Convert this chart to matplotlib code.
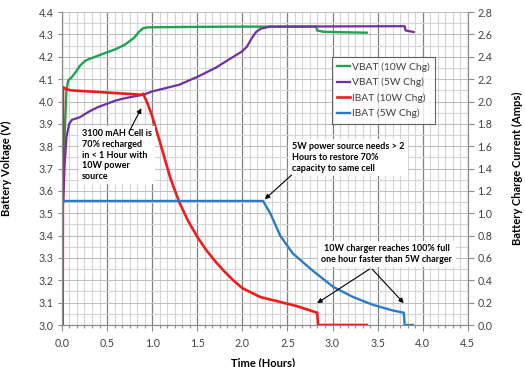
import matplotlib
matplotlib.use("Agg")
import matplotlib.pyplot as plt
from matplotlib.ticker import MultipleLocator

plt.rcParams["font.family"] = ["Lato", "DejaVu Sans"]

# VBAT, 10 W charger (volts)
vbat10_t = [0.015, 0.03, 0.05, 0.07, 0.1, 0.15, 0.2, 0.25, 0.3, 0.4, 0.5, 0.6,
            0.7, 0.8, 0.85, 0.9, 0.95, 1.5, 2.0, 2.5, 2.82, 2.83, 2.9, 3.1, 3.38]
vbat10_v = [3.62, 3.85, 4.05, 4.095, 4.105, 4.13, 4.16, 4.18, 4.19, 4.205, 4.22,
            4.235, 4.255, 4.285, 4.31, 4.328, 4.332, 4.334, 4.335, 4.335, 4.335,
            4.318, 4.312, 4.31, 4.308]

# VBAT, 5 W charger (volts)
vbat5_t = [0.015, 0.03, 0.05, 0.08, 0.11, 0.2, 0.3, 0.4, 0.5, 0.6, 0.7, 0.8,
           0.9, 1.0, 1.3, 1.5, 1.7, 1.9, 2.0, 2.05, 2.1, 2.15, 2.2, 2.3, 3.0,
           3.8, 3.81, 3.9]
vbat5_v = [3.55, 3.72, 3.84, 3.9, 3.918, 3.93, 3.955, 3.975, 3.99, 4.005, 4.015,
           4.023, 4.03, 4.045, 4.075, 4.11, 4.15, 4.2, 4.225, 4.245, 4.28, 4.31,
           4.325, 4.335, 4.336, 4.337, 4.318, 4.311]

# IBAT, 10 W charger (amps)
ibat10_t = [0.0, 0.008, 0.012, 0.05, 0.1, 0.2, 0.3, 0.4, 0.5, 0.6, 0.7, 0.8,
            0.88, 0.9, 0.95, 1.0, 1.1, 1.2, 1.3, 1.4, 1.5, 1.6, 1.7, 1.8, 1.9,
            2.0, 2.2, 2.4, 2.6, 2.83, 2.84, 3.38]
ibat10_a = [0.0, 0.0, 2.13, 2.11, 2.10, 2.095, 2.09, 2.085, 2.08, 2.075, 2.07,
            2.065, 2.06, 2.07, 1.98, 1.87, 1.60, 1.32, 1.10, 0.93, 0.79, 0.67,
            0.57, 0.48, 0.40, 0.33, 0.25, 0.21, 0.17, 0.11, 0.0, 0.0]

# IBAT, 5 W charger (amps)
ibat5_t = [0.0, 0.005, 0.01, 0.5, 1.0, 1.5, 2.0, 2.23, 2.31, 2.42, 2.56, 2.79,
           3.01, 3.23, 3.45, 3.67, 3.79, 3.80, 3.89]
ibat5_a = [0.0, 0.0, 1.11, 1.11, 1.11, 1.11, 1.11, 1.11, 1.0, 0.80, 0.64, 0.48,
           0.34, 0.25, 0.18, 0.13, 0.11, 0.0, 0.0]

labels = ["VBAT (10W Chg)", "VBAT (5W Chg)", "IBAT (10W Chg)", "IBAT (5W Chg)"]
colors = ["#1fa352", "#7030a0", "#ee1c1c", "#2a7cc2"]

TXT = "#404040"
GRID_MIN = "#d4d4d4"
GRID_MAJ = "#bfbfbf"

fig = plt.figure(figsize=(5.25, 3.67), dpi=100)
ax = fig.add_axes([0.118, 0.1144, 0.773, 0.8526])
ax2 = ax.twinx()

ax.set_xlim(0, 4.5)
ax.set_ylim(3.0, 4.4)
ax2.set_ylim(0.0, 2.8)

ax.xaxis.set_major_locator(MultipleLocator(0.5))
ax.xaxis.set_minor_locator(MultipleLocator(1 / 12))
ax.yaxis.set_major_locator(MultipleLocator(0.1))
ax.yaxis.set_minor_locator(MultipleLocator(0.05))
ax2.yaxis.set_major_locator(MultipleLocator(0.2))

ax.grid(True, which="minor", axis="both", color=GRID_MIN, lw=0.8)
ax.grid(True, which="major", axis="y", color=GRID_MAJ, lw=0.8)
ax.grid(True, which="major", axis="x", color="#808080", lw=0.9)
ax.set_axisbelow(True)

ax.xaxis.set_major_formatter(lambda v, p: f"{v:.1f}")
ax.yaxis.set_major_formatter(lambda v, p: f"{v:.1f}")
ax2.yaxis.set_major_formatter(lambda v, p: f"{v:.1f}")

for a in (ax, ax2):
    a.spines["top"].set_visible(False)
    for side in ("left", "right", "bottom"):
        a.spines[side].set_color("#8c8c8c")
        a.spines[side].set_linewidth(0.8)
    a.tick_params(which="both", colors="#8c8c8c", labelcolor=TXT,
                  labelsize=7.7, width=0.8)
ax.tick_params(axis="x", which="major", length=4, pad=5)
ax.tick_params(axis="x", which="minor", length=2)
ax.tick_params(axis="y", which="major", length=3, pad=3)
ax.tick_params(axis="y", which="minor", length=0)
ax2.tick_params(axis="y", which="major", length=4, pad=3)

l1, = ax.plot(vbat10_t, vbat10_v, color=colors[0], lw=1.7, label=labels[0])
l2, = ax.plot(vbat5_t, vbat5_v, color=colors[1], lw=1.6, label=labels[1])
l3, = ax2.plot(ibat10_t, ibat10_a, color=colors[2], lw=1.9, label=labels[2])
l4, = ax2.plot(ibat5_t, ibat5_a, color=colors[3], lw=1.7, label=labels[3])

ax.set_xlabel("Time (Hours)", fontsize=8, fontweight="bold", color="black")
ax.xaxis.set_label_coords(0.496, -0.102)
ax.set_ylabel("Battery Voltage (V)", fontsize=8, fontweight="bold")
ax.yaxis.set_label_coords(-0.123, 0.5)
ax2.set_ylabel("Battery Charge Current (Amps)", fontsize=8, fontweight="bold")
ax2.yaxis.set_label_coords(1.108, 0.5)

leg = ax2.legend(handles=[l1, l2, l3, l4], loc="upper left",
                 bbox_to_anchor=(0.665, 0.856), fontsize=7.4, frameon=True,
                 fancybox=False, handlelength=1.3, handletextpad=0.2,
                 labelspacing=0.58, borderpad=0.5, borderaxespad=0)
leg.get_frame().set_edgecolor("#404040")
leg.get_frame().set_linewidth(0.8)
for t in leg.get_texts():
    t.set_color(TXT)

# notes live on the top (current) axes but use voltage coordinates
vt = ax.transData
box = dict(facecolor="white", edgecolor="none", pad=2.5)
note = dict(fontsize=6.5, fontweight="bold", color="black", linespacing=1.25,
            bbox=box, zorder=6, transform=vt)
arrow = dict(arrowstyle="-|>", color="black", lw=0.8, mutation_scale=7,
             shrinkA=0, shrinkB=0)


def pointer(head, tail):
    ax2.annotate("", xy=head, xytext=tail, xycoords=vt, textcoords=vt,
                 arrowprops=arrow, zorder=7)


ax2.text(0.222, 3.877, "3100 mAH Cell is\n70% recharged\nin < 1 Hour with\n10W power\nsource",
         ha="left", va="top", **note)
pointer((0.88, 3.97), (0.754, 3.872))

ax2.text(2.55, 3.818, "5W power source needs > 2\nHours to restore 70%\ncapacity to same cell",
         ha="left", va="top", **note)
pointer((2.25, 3.563), (2.546, 3.671))

ax2.text(3.60, 3.362, "10W charger reaches 100% full\none hour faster than 5W charger",
         ha="center", va="top", **note)
pointer((2.83, 3.098), (3.41, 3.25))
pointer((3.79, 3.098), (3.44, 3.25))

fig.savefig("out.png", dpi=100)
